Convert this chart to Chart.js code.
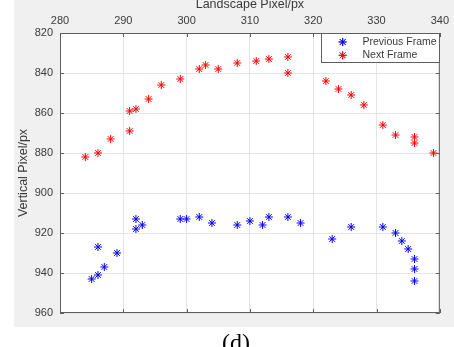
<!DOCTYPE html>
<html>
<head>
<meta charset="utf-8">
<script src="https://cdn.jsdelivr.net/npm/chart.js@4.4.1/dist/chart.umd.min.js"></script>
<style>
  html, body { margin: 0; padding: 0; background: #ffffff; }
  #wrap { position: relative; width: 454px; height: 347px; }
</style>
</head>
<body>
<div id="wrap"><canvas id="grafico" width="454" height="347"></canvas></div>
<script>
// Dados
var prevX = [285, 286, 286, 287, 289, 292, 292, 293, 299, 300, 302, 304, 308, 310, 312, 313, 316, 318, 323, 326, 331, 333, 334, 335, 336, 336, 336];
var prevY = [943, 941, 927, 937, 930, 913, 918, 916, 913, 913, 912, 915, 916, 914, 916, 912, 912, 915, 923, 917, 917, 920, 924, 928, 933, 938, 944];
var nextX = [284, 286, 288, 291, 291, 292, 294, 296, 299, 302, 303, 305, 308, 311, 313, 316, 316, 322, 324, 326, 328, 331, 333, 336, 336, 339];
var nextY = [882, 880, 873, 869, 859, 858, 853, 846, 843, 838, 836, 838, 835, 834, 833, 832, 840, 844, 848, 851, 856, 866, 871, 872, 875, 880];
var seriesNames = ['Previous Frame', 'Next Frame'];
var xTitle = 'Landscape Pixel/px';
var yTitle = 'Vertical Pixel/px';
var caption = '(d)';

function pares(xs, ys) {
    return xs.map(function (x, i) { return { x: x, y: ys[i] }; });
}

var corEixo = '#5e5e5e';
var corTexto = '#3a3a3a';

// Fundo cinza, ticks internos, títulos, legenda e legenda da figura
var decoracao = {
    id: 'decoracao',
    beforeDraw: function (chart) {
        var ctx = chart.ctx, a = chart.chartArea;
        ctx.save();
        ctx.fillStyle = '#f0f0f0';
        ctx.fillRect(14, 0, 440, 327);
        ctx.fillStyle = '#ffffff';
        ctx.fillRect(a.left, a.top, a.right - a.left, a.bottom - a.top);
        ctx.restore();
    },
    afterDraw: function (chart) {
        var ctx = chart.ctx, a = chart.chartArea;
        var sx = chart.scales.x, sy = chart.scales.y;
        ctx.save();
        // caixa
        ctx.strokeStyle = corEixo;
        ctx.lineWidth = 1;
        ctx.strokeRect(a.left + 0.5, a.top + 0.5, a.right - a.left - 1, a.bottom - a.top - 1);
        // ticks internos
        ctx.beginPath();
        sy.ticks.forEach(function (t) {
            var y = Math.round(sy.getPixelForValue(t.value)) + 0.5;
            ctx.moveTo(a.left, y); ctx.lineTo(a.left + 4, y);
            ctx.moveTo(a.right, y); ctx.lineTo(a.right - 4, y);
        });
        sx.ticks.forEach(function (t) {
            var x = Math.round(sx.getPixelForValue(t.value)) + 0.5;
            ctx.moveTo(x, a.top); ctx.lineTo(x, a.top + 4);
            ctx.moveTo(x, a.bottom); ctx.lineTo(x, a.bottom - 4);
        });
        ctx.stroke();

        // títulos dos eixos
        ctx.fillStyle = corTexto;
        ctx.font = '12.5px "Liberation Sans", Arial, sans-serif';
        ctx.textAlign = 'center';
        ctx.textBaseline = 'middle';
        ctx.fillText(xTitle, (a.left + a.right) / 2, 5);
        ctx.save();
        ctx.translate(24, (a.top + a.bottom) / 2);
        ctx.rotate(-Math.PI / 2);
        ctx.fillText(yTitle, 0, 0);
        ctx.restore();

        // legenda
        var lx = 321.5, ly = 33.5, lw = 118, lh = 29;
        ctx.fillStyle = '#ffffff';
        ctx.fillRect(lx, ly, lw, lh);
        ctx.strokeStyle = corEixo;
        ctx.strokeRect(lx, ly, lw, lh);
        ctx.font = '10.5px "Liberation Sans", Arial, sans-serif';
        ctx.textAlign = 'left';
        chart.data.datasets.forEach(function (ds, i) {
            var cy = 42 + i * 13.3;
            Chart.helpers.drawPoint(ctx, { pointStyle: 'star', radius: 4, borderWidth: 1 }, 342.7, cy);
            ctx.strokeStyle = ds.borderColor;
            ctx.lineWidth = 1;
            ctx.stroke();
            ctx.fillStyle = corTexto;
            ctx.fillText(ds.label, 362.5, cy);
            ctx.strokeStyle = corEixo;
        });

        // legenda da figura
        ctx.fillStyle = '#000000';
        ctx.font = '24px "Liberation Serif", "Times New Roman", serif';
        ctx.textAlign = 'center';
        ctx.textBaseline = 'alphabetic';
        ctx.fillText(caption, 236, 350);
        ctx.restore();
    }
};

var ctx = document.getElementById('grafico').getContext('2d');
var myChart = new Chart(ctx, {
    type: 'scatter',
    data: {
        datasets: [{
            label: seriesNames[0],
            data: pares(prevX, prevY),
            borderColor: '#0000ff',
            backgroundColor: '#0000ff',
            pointStyle: 'star',
            pointRadius: 4,
            pointBorderWidth: 1
        },
        {
            label: seriesNames[1],
            data: pares(nextX, nextY),
            borderColor: '#ff0000',
            backgroundColor: '#ff0000',
            pointStyle: 'star',
            pointRadius: 4,
            pointBorderWidth: 1
        }]
    },
    options: {
        responsive: false,
        animation: false,
        layout: { padding: { left: 0, right: 14, top: 0, bottom: 34 } },
        plugins: {
            legend: { display: false },
            tooltip: { enabled: false }
        },
        scales: {
            x: {
                type: 'linear',
                position: 'top',
                min: 280,
                max: 340,
                afterFit: function (s) { s.height = 33; },
                ticks: {
                    stepSize: 10,
                    padding: 5,
                    color: corTexto,
                    font: { family: '"Liberation Sans", Arial, sans-serif', size: 11 }
                },
                grid: { color: '#e4e4e4', drawTicks: false },
                border: { display: false }
            },
            y: {
                type: 'linear',
                reverse: true,
                min: 820,
                max: 960,
                afterFit: function (s) { s.width = 60; },
                ticks: {
                    stepSize: 20,
                    padding: 7,
                    color: corTexto,
                    font: { family: '"Liberation Sans", Arial, sans-serif', size: 11 }
                },
                grid: { color: '#e4e4e4', drawTicks: false },
                border: { display: false }
            }
        }
    },
    plugins: [decoracao]
});
</script>
</body>
</html>
